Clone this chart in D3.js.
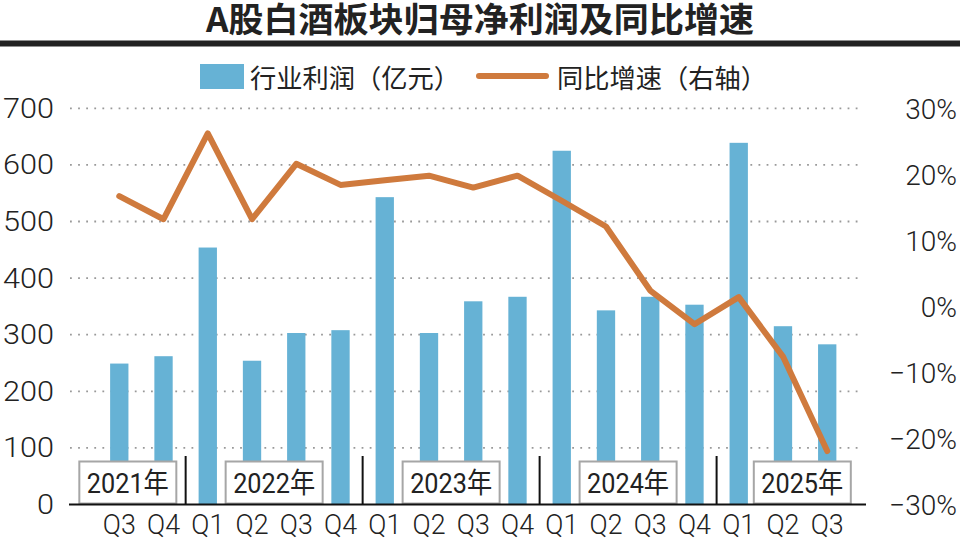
<!DOCTYPE html>
<html>
<head>
<meta charset="utf-8">
<script src="https://cdn.jsdelivr.net/npm/d3@7"></script>
<style>
  html, body { margin: 0; padding: 0; background: #fff; }
  svg { display: block; }
  text { fill: #222; }
</style>
</head>
<body>
<div id="chart"></div>
<script>
// ---- data ----
const quarters = ['Q3','Q4','Q1','Q2','Q3','Q4','Q1','Q2','Q3','Q4','Q1','Q2','Q3','Q4','Q1','Q2','Q3'];
const years    = [2021,2021,2022,2022,2022,2022,2023,2023,2023,2023,2024,2024,2024,2024,2025,2025,2025];
const profit   = [249, 262, 454, 254, 303, 308, 543, 303, 359, 367, 625, 343, 367, 353, 639, 315, 283]; // 亿元
const growth   = [16.7, 13.2, 26.2, 13.2, 21.6, 18.4, 19.1, 19.8, 18.0, 19.8, 16.0, 12.1, 2.4, -2.7, 1.4, -7.6, -21.9]; // %
const leftTicks  = [0, 100, 200, 300, 400, 500, 600, 700];
const rightTicks = [-30, -20, -10, 0, 10, 20, 30];
const yearLabels = ['2021年', '2022年', '2023年', '2024年', '2025年'];

const title = 'A股白酒板块归母净利润及同比增速';
const legendBar = '行业利润（亿元）';
const legendLine = '同比增速（右轴）';

// ---- layout ----
const W = 960, H = 542;
const plotLeft = 70, plotRight = 866;
const yTop = 108.3, yBottom = 504.5;
const barColor = '#66b2d5';
const lineColor = '#cf7a3d';
const latin = 'Roboto, "Liberation Sans", "Noto Sans CJK SC", sans-serif';
const cjk = '"Noto Sans CJK SC", sans-serif';

const svg = d3.select('#chart').append('svg')
  .attr('width', W)
  .attr('height', H);

const idx = d3.range(quarters.length);

const x = d3.scaleBand()
  .domain(idx)
  .range([88, 858.5])
  .paddingInner(0.586)
  .paddingOuter(0.5);
const xc = i => x(i) + x.bandwidth() / 2;

const yLeft = d3.scaleLinear().domain([0, 700]).range([yBottom, yTop]);
const yRight = d3.scaleLinear().domain([-30, 30]).range([yBottom, yTop]);

// ---- title + rule ----
svg.append('text')
  .attr('x', W / 2)
  .attr('y', 17.5)
  .attr('text-anchor', 'middle')
  .attr('dominant-baseline', 'central')
  .attr('font-family', cjk)
  .attr('font-weight', 700)
  .attr('font-size', 34)
  .attr('textLength', 548)
  .attr('lengthAdjust', 'spacingAndGlyphs')
  .text(title);

svg.append('rect')
  .attr('x', 0).attr('y', 40.5)
  .attr('width', W).attr('height', 6)
  .attr('fill', '#222');

// ---- legend ----
const legend = svg.append('g');
legend.append('rect')
  .attr('x', 200).attr('y', 64)
  .attr('width', 44).attr('height', 25)
  .attr('fill', barColor);
legend.append('text')
  .attr('x', 250).attr('y', 76)
  .attr('dominant-baseline', 'central')
  .attr('font-family', cjk)
  .attr('font-weight', 400)
  .attr('font-size', 26)
  .attr('textLength', 210)
  .attr('lengthAdjust', 'spacingAndGlyphs')
  .text(legendBar);
legend.append('line')
  .attr('x1', 479).attr('x2', 546)
  .attr('y1', 76).attr('y2', 76)
  .attr('stroke', lineColor)
  .attr('stroke-width', 6)
  .attr('stroke-linecap', 'round');
legend.append('text')
  .attr('x', 557).attr('y', 76)
  .attr('dominant-baseline', 'central')
  .attr('font-family', cjk)
  .attr('font-weight', 400)
  .attr('font-size', 26)
  .attr('textLength', 210)
  .attr('lengthAdjust', 'spacingAndGlyphs')
  .text(legendLine);

// ---- dotted gridlines ----
svg.append('g')
  .selectAll('line')
  .data(leftTicks.filter(d => d > 0))
  .join('line')
    .attr('x1', plotLeft).attr('x2', plotRight - 4)
    .attr('y1', d => yLeft(d)).attr('y2', d => yLeft(d))
    .attr('stroke', '#999')
    .attr('stroke-width', 1.8)
    .attr('stroke-dasharray', '1.8,6.3');

// ---- bars ----
svg.append('g')
  .selectAll('rect')
  .data(idx)
  .join('rect')
    .attr('x', i => x(i))
    .attr('y', i => yLeft(profit[i]))
    .attr('width', x.bandwidth())
    .attr('height', i => yLeft(0) - yLeft(profit[i]))
    .attr('fill', barColor);

// ---- year boxes + separators ----
const yearList = Array.from(new Set(years));
const seps = yearList.slice(1).map(yr => {
  const first = years.indexOf(yr);
  return (xc(first - 1) + xc(first)) / 2;
});
const bounds = [plotLeft, ...seps, plotRight + 22];

const boxW = 97, boxH = 42, boxTop = 461.5;
const boxes = svg.append('g')
  .selectAll('g')
  .data(yearList)
  .join('g')
    .attr('transform', (d, k) => `translate(${(bounds[k] + bounds[k + 1]) / 2}, ${boxTop})`);
boxes.append('rect')
  .attr('x', -boxW / 2).attr('y', 0)
  .attr('width', boxW).attr('height', boxH)
  .attr('fill', '#fff')
  .attr('stroke', '#a6a6a6')
  .attr('stroke-width', 2);
boxes.append('text')
  .attr('x', 0).attr('y', boxH / 2 + 1)
  .attr('text-anchor', 'middle')
  .attr('dominant-baseline', 'central')
  .attr('font-family', latin)
  .attr('font-size', 28)
  .attr('textLength', 82)
  .attr('lengthAdjust', 'spacingAndGlyphs')
  .text((d, k) => yearLabels[k]);

svg.append('g')
  .selectAll('line')
  .data(seps)
  .join('line')
    .attr('x1', d => d).attr('x2', d => d)
    .attr('y1', 456).attr('y2', yBottom)
    .attr('stroke', '#111')
    .attr('stroke-width', 2);

// baseline
svg.append('line')
  .attr('x1', plotLeft - 1).attr('x2', plotRight)
  .attr('y1', yBottom).attr('y2', yBottom)
  .attr('stroke', '#111')
  .attr('stroke-width', 2);

// ---- growth line ----
const line = d3.line()
  .x(i => xc(i))
  .y(i => yRight(growth[i]));

svg.append('path')
  .datum(idx)
  .attr('d', line)
  .attr('fill', 'none')
  .attr('stroke', lineColor)
  .attr('stroke-width', 6)
  .attr('stroke-linejoin', 'round')
  .attr('stroke-linecap', 'round');

// ---- axes (labels only) ----
const leftAxis = d3.axisLeft(yLeft)
  .tickValues(leftTicks)
  .tickSize(0)
  .tickPadding(0);
svg.append('g')
  .attr('transform', 'translate(54,0)')
  .call(leftAxis)
  .call(g => g.select('.domain').remove())
  .call(g => g.selectAll('text')
    .attr('font-family', latin)
    .attr('font-weight', 300)
    .attr('font-size', 27)
    .attr('fill', '#222')
    .attr('dy', '0.33em')
    .attr('textLength', d => String(d).length * 17)
    .attr('lengthAdjust', 'spacingAndGlyphs'));

const rightAxis = d3.axisLeft(yRight)
  .tickValues(rightTicks)
  .tickSize(0)
  .tickPadding(0)
  .tickFormat(d => d3.format('d')(d) + '%');
svg.append('g')
  .attr('transform', 'translate(957,0)')
  .call(rightAxis)
  .call(g => g.select('.domain').remove())
  .call(g => g.selectAll('text')
    .attr('font-family', latin)
    .attr('font-weight', 300)
    .attr('font-size', 28)
    .attr('fill', '#222')
    .attr('dy', '0.35em'));

const bottomAxis = d3.axisBottom(x)
  .tickSize(0)
  .tickPadding(10)
  .tickFormat(i => quarters[i]);
svg.append('g')
  .attr('transform', `translate(0,${yBottom})`)
  .call(bottomAxis)
  .call(g => g.select('.domain').remove())
  .call(g => g.selectAll('text')
    .attr('font-family', latin)
    .attr('font-weight', 300)
    .attr('font-size', 27)
    .attr('fill', '#222')
    .attr('textLength', 33)
    .attr('lengthAdjust', 'spacingAndGlyphs'));
</script>
</body>
</html>
